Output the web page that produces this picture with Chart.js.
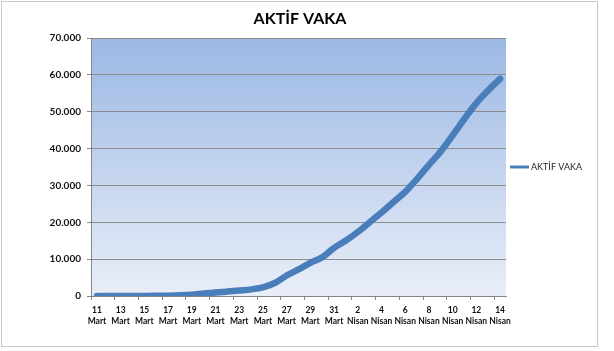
<!DOCTYPE html>
<html>
<head>
<meta charset="utf-8">
<script src="https://cdn.jsdelivr.net/npm/chart.js@4"></script>
<style>
  html, body { margin: 0; padding: 0; background: #fff; }
  canvas { display: block; }
</style>
</head>
<body>
<canvas id="chart" width="614" height="351"></canvas>
<script>
// Categories (days) and active case counts
const days = [
  '11 Mart', '12 Mart', '13 Mart', '14 Mart', '15 Mart', '16 Mart', '17 Mart',
  '18 Mart', '19 Mart', '20 Mart', '21 Mart', '22 Mart', '23 Mart', '24 Mart',
  '25 Mart', '26 Mart', '27 Mart', '28 Mart', '29 Mart', '30 Mart', '31 Mart',
  '1 Nisan', '2 Nisan', '3 Nisan', '4 Nisan', '5 Nisan', '6 Nisan', '7 Nisan',
  '8 Nisan', '9 Nisan', '10 Nisan', '11 Nisan', '12 Nisan', '13 Nisan', '14 Nisan'
];
const activeCases = [
  1, 1, 5, 5, 18, 47, 97,
  189, 355, 661, 926, 1206, 1492, 1802,
  2348, 3528, 5564, 7224, 8981, 10497, 13074,
  15069, 17364, 20012, 22647, 25453, 28242, 31802,
  35568, 39232, 43600, 48101, 52312, 55796, 58909
];
const yTicks = [0, 10000, 20000, 30000, 40000, 50000, 60000, 70000];

const seriesName = 'AKTİF VAKA';
const lineColor = '#4A7EBB';
const labelFont = 'Lato, "Liberation Sans", sans-serif';

// white page, outer border, plot gradient, title and legend
const decor = {
  id: 'decor',
  beforeDraw(chart) {
    const ctx = chart.ctx;
    const a = chart.chartArea;
    ctx.save();
    ctx.fillStyle = '#fff';
    ctx.fillRect(0, 0, chart.width, chart.height);
    ctx.strokeStyle = '#c8c8c8';
    ctx.lineWidth = 1;
    ctx.strokeRect(1.5, 1.5, 596, 345);
    const g = ctx.createLinearGradient(0, a.top, 0, a.bottom);
    g.addColorStop(0, '#9bb8e4');
    g.addColorStop(1, '#e9eef8');
    ctx.fillStyle = g;
    ctx.fillRect(a.left, a.top, a.right - a.left, a.bottom - a.top);
    ctx.restore();
  },
  afterDraw(chart) {
    const ctx = chart.ctx;
    const a = chart.chartArea;
    ctx.save();
    ctx.fillStyle = '#000';
    ctx.font = 'bold 16px ' + labelFont;
    ctx.textAlign = 'center';
    ctx.textBaseline = 'middle';
    ctx.fillText(seriesName, 300, 19);

    const ly = (a.top + a.bottom) / 2;
    ctx.strokeStyle = lineColor;
    ctx.lineWidth = 3;
    ctx.beginPath();
    ctx.moveTo(a.right + 4, ly);
    ctx.lineTo(a.right + 23, ly);
    ctx.stroke();
    ctx.fillStyle = '#222';
    ctx.font = '9px ' + labelFont;
    ctx.textAlign = 'left';
    ctx.fillText(seriesName, a.right + 25, ly);
    ctx.restore();
  }
};

new Chart(document.getElementById('chart'), {
  type: 'line',
  data: {
    labels: days,
    datasets: [{
      label: seriesName,
      data: activeCases,
      borderColor: lineColor,
      borderWidth: 6.5,
      borderCapStyle: 'round',
      borderJoinStyle: 'round',
      cubicInterpolationMode: 'monotone',
      pointRadius: 0,
      fill: false
    }]
  },
  options: {
    responsive: false,
    animation: false,
    devicePixelRatio: 1,
    layout: { padding: { left: 10, right: 108, top: 38, bottom: 15 } },
    plugins: {
      legend: { display: false },
      title: { display: false },
      tooltip: { enabled: false }
    },
    scales: {
      x: {
        type: 'category',
        offset: true,
        border: { color: '#868686', width: 1 },
        grid: {
          offset: true,
          drawOnChartArea: false,
          drawTicks: true,
          tickLength: 4,
          tickColor: ctx => (ctx.index % 2 === 0 ? '#868686' : 'rgba(0,0,0,0)')
        },
        ticks: {
          autoSkip: false,
          maxRotation: 0,
          minRotation: 0,
          padding: 5,
          color: '#111',
          font: { family: labelFont, size: 8.5, weight: 'bold', lineHeight: 1.3 },
          callback: function(value, index) {
            return index % 2 === 0 ? days[index].split(' ') : '';
          }
        },
        afterFit: scale => { scale.height = 40; }
      },
      y: {
        min: yTicks[0],
        max: yTicks[yTicks.length - 1],
        border: { color: '#868686', width: 1 },
        grid: {
          color: '#8c8c8c',
          lineWidth: 1,
          tickLength: 4,
          tickColor: '#868686'
        },
        afterBuildTicks: scale => {
          scale.ticks = yTicks.map(v => ({ value: v }));
        },
        ticks: {
          padding: 6,
          color: '#111',
          font: { family: labelFont, size: 10, weight: 'bold' },
          callback: v => v.toString().replace(/\B(?=(\d{3})+(?!\d))/g, '.')
        },
        afterFit: scale => { scale.width = 81; }
      }
    }
  },
  plugins: [decor]
});
</script>
</body>
</html>
